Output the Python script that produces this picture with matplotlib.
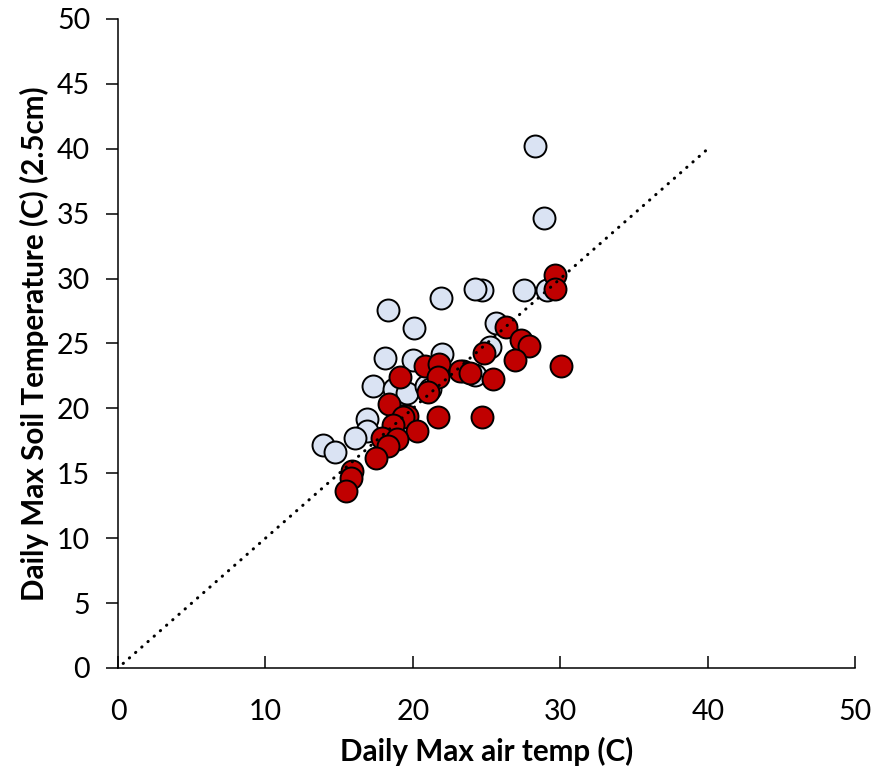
import matplotlib.pyplot as plt

plt.rcParams['font.family'] = ['Lato', 'DejaVu Sans']

# light blue series (air temp, soil temp)
blue_x = [28.3, 28.9, 29.1, 27.5, 24.7, 24.2, 21.9, 18.3, 20.1, 25.6, 25.2,
          18.1, 20.0, 22.0, 24.2, 23.4, 17.3, 19.1, 18.7, 19.6, 20.9, 21.15,
          16.9, 16.9, 16.1, 13.9, 14.7]
blue_y = [40.2, 34.7, 29.1, 29.1, 29.1, 29.2, 28.5, 27.6, 26.2, 26.6, 24.7,
          23.9, 23.7, 24.2, 22.6, 22.9, 21.7, 21.1, 21.5, 21.2, 21.7, 21.5,
          19.2, 18.25, 17.7, 17.2, 16.65]

# red series
red_x = [29.6, 29.65, 26.3, 27.3, 27.9, 26.9, 30.05, 24.8, 20.8, 21.8, 21.7,
         23.2, 23.9, 25.4, 19.1, 21.0, 18.4, 19.6, 19.3, 18.65, 21.7, 24.65,
         20.25, 17.9, 18.9, 18.3, 17.5, 15.9, 15.8, 15.45]
red_y = [30.3, 29.2, 26.3, 25.3, 24.8, 23.7, 23.3, 24.3, 23.3, 23.4, 22.4,
         22.9, 22.75, 22.3, 22.4, 21.3, 20.3, 19.4, 19.3, 18.75, 19.3, 19.3,
         18.25, 17.7, 17.65, 17.1, 16.2, 15.2, 14.65, 13.6]

# 1:1 reference line
line_x = [0.35, 39.9]
line_y = [0.35, 39.9]

fig = plt.figure(figsize=(8.82, 7.71), dpi=100)
ax = fig.add_axes([0.1338, 0.1336, 0.836, 0.8418])

ax.scatter(blue_x, blue_y, s=250, color='#DAE3F3', edgecolor='black', linewidth=1.4, zorder=2)
ax.scatter(red_x, red_y, s=250, color='#C00000', edgecolor='black', linewidth=1.4, zorder=3)
ax.plot(line_x, line_y, color='black', linewidth=2.2, linestyle=(0, (0.1, 2.6)),
        dash_capstyle='round', zorder=4)

ax.set_xlim(0, 50)
ax.set_ylim(0, 50)
ax.set_xticks(range(0, 51, 10))
ax.set_yticks(range(0, 51, 5))
ax.spines['top'].set_visible(False)
ax.spines['right'].set_visible(False)
ax.spines['left'].set_linewidth(1.1)
ax.spines['bottom'].set_linewidth(1.1)
ax.tick_params(axis='x', direction='in', length=9, width=1.1, labelsize=20.5, pad=22)
ax.tick_params(axis='y', direction='out', length=9, width=1.1, labelsize=20.5, pad=11)

ax.set_xlabel('Daily Max air temp (C)', fontsize=21.3, fontweight='bold', labelpad=9)
ax.set_ylabel('Daily Max Soil Temperature (C) (2.5cm)', fontsize=21.3, fontweight='bold', labelpad=6)

fig.savefig('out.png', dpi=100)
